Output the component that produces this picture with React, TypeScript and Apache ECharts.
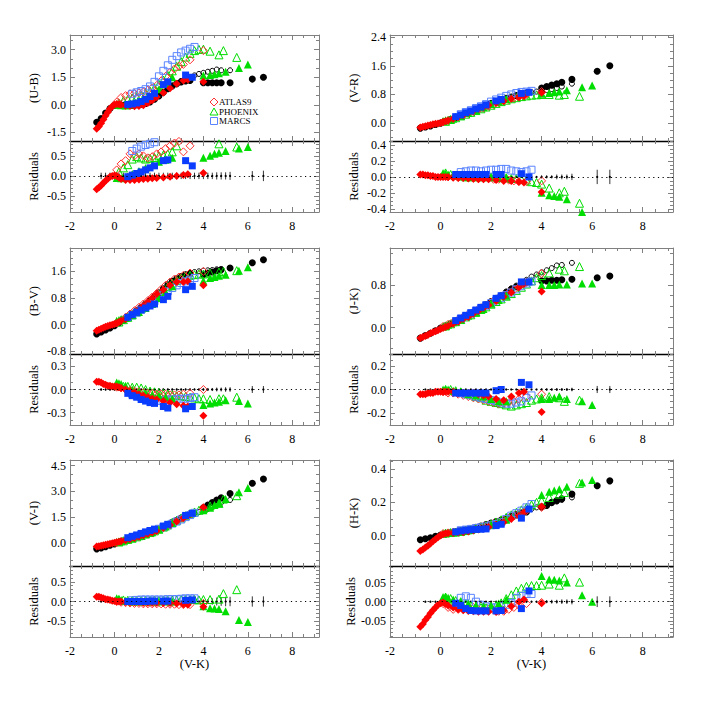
import React, { useEffect, useRef } from "react";
import * as echarts from "echarts";

// ---------- shared V-K abscissae ----------
const vkBlackDwarf = [-0.8,-0.6,-0.4,-0.2,0.0,0.2,0.4,0.6,0.8,1.0,1.2,1.4,1.6,1.8,2.0,2.2,2.4,2.6,2.8,3.0,3.2,3.4,4.0,4.2,4.4,4.6,4.8,5.2,6.2,6.7];
const vkBlackGiant = [2.6,2.8,3.0,3.2,3.4,3.6,3.8,4.0,4.2,4.4,4.6,4.8,5.2];
const vkAtlasDwarf = [-0.8,-0.7,-0.6,-0.5,-0.4,-0.3,-0.2,-0.1,0.0,0.1,0.2,0.3,0.5,0.7,0.9,1.1,1.3,1.5,1.7,1.9,2.2,2.5,2.8,3.1,3.3,4.0];
const vkAtlasGiant = [0.1,0.3,0.5,0.7,0.9,1.1,1.3,1.5,1.7,1.9,2.1,2.3,2.5,2.7,2.9,3.1,3.4,4.0];
const vkPhoenixDwarf = [0.1,0.2,0.3,0.5,0.8,1.1,1.4,1.7,2.0,2.3,2.6,4.0,4.3,4.5,4.7,5.0,5.6,6.0];
const vkPhoenixGiant = [0.2,0.4,0.6,0.8,1.0,1.2,1.4,1.6,1.8,2.0,2.2,2.4,2.6,2.8,3.0,3.2,3.4,3.6,3.8,4.0,4.3,4.7,4.9,5.5];
const vkMarcsDwarf = [0.6,0.8,1.0,1.2,1.4,1.6,1.8,2.2,2.4,3.2,3.5];
const vkMarcsGiant = [0.8,1.0,1.2,1.4,1.6,1.8,2.0,2.2,2.4,2.6,2.8,3.0,3.2,3.4,3.6];
const vkErr = [-0.6,-0.4,-0.2,0.0,0.2,0.4,0.6,0.8,1.0,1.2,1.4,1.6,1.8,2.0,2.2,2.4,2.6,2.8,3.0,3.2,3.4,3.6,3.8,4.0,4.2,4.4,4.6,4.8,5.0,5.2,6.2,6.7];

// ---------- tick labels ----------
const vkTicks = [-2, 0, 2, 4, 6, 8];
const ubMainTicks = [-1.5, 0, 1.5, 3.0];
const ubResTicks = [-0.5, 0, 0.5];
const vrMainTicks = [0, 0.8, 1.6, 2.4];
const vrResTicks = [-0.4, -0.2, 0, 0.2, 0.4];
const bvMainTicks = [-0.8, 0, 0.8, 1.6];
const bvResTicks = [-0.3, 0, 0.3];
const jkMainTicks = [0, 0.8];
const jkResTicks = [-0.2, 0, 0.2];
const viMainTicks = [0, 1.5, 3.0, 4.5];
const viResTicks = [-0.5, 0, 0.5];
const hkMainTicks = [0, 0.2, 0.4];
const hkResTicks = [-0.05, 0, 0.05];

// ---------- (U-B) ----------
const ubBlackDwarf = [-0.95,-0.75,-0.45,-0.2,-0.03,0.0,-0.03,-0.04,-0.03,0.0,0.03,0.07,0.15,0.3,0.48,0.68,0.87,1.02,1.15,1.25,1.3,1.32,1.2,1.2,1.2,1.2,1.2,1.2,1.4,1.5];
const ubBlackGiant = [1.05,1.18,1.3,1.4,1.5,1.6,1.68,1.74,1.8,1.85,1.92,1.88,1.88];
const ubAtlasDwarf = [-1.3,-1.18,-1.0,-0.8,-0.6,-0.4,-0.22,-0.08,0.0,0.04,0.03,0.0,-0.05,-0.07,-0.08,-0.06,-0.02,0.1,0.25,0.42,0.65,0.9,1.15,1.32,1.38,1.25];
const ubAtlasGiant = [0.15,0.4,0.5,0.6,0.62,0.65,0.7,0.8,0.92,1.05,1.3,1.55,1.77,1.95,2.1,2.2,2.45,2.95];
const ubPhoenixDwarf = [0.0,0.0,-0.02,-0.04,0.0,0.1,0.3,0.55,0.85,1.15,1.5,1.6,1.62,1.67,1.72,1.8,2.0,2.2];
const ubPhoenixGiant = [0.1,0.22,0.3,0.38,0.45,0.52,0.62,0.75,0.92,1.12,1.35,1.6,1.85,2.1,2.35,2.6,2.8,2.95,3.02,3.03,2.92,2.72,2.95,2.58];
const ubMarcsDwarf = [0.02,0.05,0.1,0.18,0.3,0.45,0.62,1.1,1.25,1.62,1.5];
const ubMarcsGiant = [0.6,0.68,0.75,0.85,1.0,1.25,1.55,1.85,2.15,2.45,2.65,2.85,2.95,3.05,3.15];
const ubResAtlasDwarf = [-0.33,-0.29,-0.24,-0.18,-0.12,-0.07,-0.02,0.0,0.01,0.0,-0.04,-0.08,-0.1,-0.1,-0.1,-0.09,-0.08,-0.07,-0.06,-0.05,-0.04,-0.02,0.0,0.02,0.04,0.07];
const ubResAtlasGiant = [0.15,0.3,0.38,0.55,0.5,0.55,0.5,0.45,0.48,0.55,0.6,0.68,0.75,0.82,0.86,0.6,0.75,1.2];
const ubResPhoenixDwarf = [-0.05,-0.05,-0.06,-0.05,0.05,0.12,0.2,0.28,0.35,0.4,0.45,0.45,0.5,0.55,0.58,0.62,0.68,0.72];
const ubResPhoenixGiant = [0.1,0.2,0.28,0.42,0.48,0.45,0.42,0.44,0.46,0.5,0.52,0.55,0.6,0.75,0.9,1.0,1.1,1.2,1.3,1.4,1.1,0.8,1.0,0.72];
const ubResMarcsDwarf = [-0.02,0.02,0.06,0.1,0.15,0.2,0.25,0.38,0.4,0.38,0.25];
const ubResMarcsGiant = [0.62,0.68,0.73,0.77,0.8,0.84,0.88,0.95,1.0,1.05,1.1,1.15,1.2,1.25,1.3];
const ubErr = [0.08,0.08,0.08,0.08,0.08,0.08,0.08,0.08,0.08,0.08,0.08,0.08,0.08,0.08,0.08,0.08,0.08,0.08,0.08,0.08,0.08,0.08,0.08,0.08,0.08,0.08,0.09,0.09,0.09,0.1,0.12,0.13];

// ---------- (V-R) ----------
const vrBlackDwarf = [-0.14,-0.11,-0.08,-0.04,0.0,0.05,0.1,0.16,0.21,0.27,0.32,0.38,0.43,0.49,0.55,0.6,0.64,0.69,0.73,0.77,0.8,0.84,0.98,1.02,1.06,1.1,1.14,1.22,1.45,1.6];
const vrBlackGiant = [0.69,0.73,0.77,0.8,0.84,0.86,0.88,0.9,0.92,0.95,0.98,1.02,1.1];
const vrAtlasDwarf = [-0.12,-0.1,-0.09,-0.07,-0.05,-0.03,-0.02,-0.01,0.0,0.03,0.05,0.07,0.12,0.17,0.22,0.29,0.34,0.4,0.45,0.5,0.56,0.62,0.68,0.72,0.75,0.85];
const vrAtlasGiant = [0.03,0.07,0.12,0.17,0.22,0.27,0.32,0.37,0.42,0.47,0.52,0.57,0.62,0.66,0.7,0.74,0.8,0.88];
const vrPhoenixDwarf = [0.06,0.08,0.09,0.12,0.2,0.28,0.36,0.44,0.53,0.6,0.67,0.82,0.84,0.86,0.88,0.92,1.0,1.05];
const vrPhoenixGiant = [0.05,0.1,0.15,0.2,0.25,0.3,0.35,0.4,0.45,0.5,0.55,0.6,0.64,0.68,0.71,0.74,0.76,0.78,0.79,0.8,0.8,0.78,0.8,0.75];
const vrMarcsDwarf = [0.18,0.23,0.29,0.34,0.4,0.45,0.51,0.62,0.66,0.83,0.86];
const vrMarcsGiant = [0.25,0.31,0.36,0.42,0.47,0.53,0.6,0.66,0.71,0.76,0.8,0.84,0.87,0.88,0.9];
const vrResAtlasDwarf = [0.03,0.03,0.02,0.02,0.01,0.01,0.0,0.0,0.0,0.0,0.0,0.0,-0.01,-0.01,-0.01,-0.02,-0.02,-0.03,-0.03,-0.03,-0.04,-0.05,-0.05,-0.06,-0.07,-0.19];
const vrResAtlasGiant = [0.01,0.0,0.0,-0.01,-0.01,-0.01,-0.02,-0.02,-0.02,-0.02,-0.03,-0.03,-0.03,-0.04,-0.05,-0.06,-0.06,-0.05];
const vrResPhoenixDwarf = [0.05,0.04,0.03,0.02,0.01,0.0,0.0,0.0,0.0,-0.01,-0.01,-0.2,-0.23,-0.24,-0.25,-0.28,-0.44,-0.5];
const vrResPhoenixGiant = [0.05,0.03,0.02,0.01,0.0,0.0,0.0,0.0,0.0,0.0,0.0,-0.01,-0.01,-0.02,-0.02,-0.03,-0.04,-0.06,-0.07,-0.09,-0.14,-0.2,-0.18,-0.33];
const vrResMarcsDwarf = [0.03,0.03,0.03,0.03,0.03,0.03,0.03,0.03,0.03,0.04,0.0];
const vrResMarcsGiant = [0.06,0.07,0.08,0.08,0.07,0.08,0.09,0.09,0.1,0.1,0.08,0.07,0.06,0.07,0.09];
const vrErr = [0.01,0.01,0.01,0.01,0.01,0.01,0.01,0.01,0.01,0.01,0.01,0.01,0.01,0.01,0.01,0.01,0.01,0.01,0.01,0.01,0.01,0.01,0.01,0.02,0.02,0.02,0.03,0.03,0.03,0.04,0.09,0.09];

// ---------- (B-V) ----------
const bvBlackDwarf = [-0.28,-0.22,-0.16,-0.1,-0.03,0.05,0.13,0.22,0.32,0.42,0.52,0.62,0.73,0.84,0.96,1.08,1.2,1.3,1.38,1.44,1.5,1.53,1.5,1.55,1.58,1.62,1.65,1.7,1.86,1.95];
const bvBlackGiant = [1.3,1.38,1.45,1.5,1.55,1.58,1.6,1.62,1.63,1.64,1.66,1.67,1.7];
const bvAtlasDwarf = [-0.18,-0.15,-0.12,-0.09,-0.06,-0.04,-0.02,0.0,0.02,0.05,0.08,0.12,0.17,0.25,0.35,0.45,0.57,0.68,0.8,0.92,1.05,1.18,1.28,1.28,1.3,1.18];
const bvAtlasGiant = [0.05,0.13,0.22,0.32,0.42,0.52,0.62,0.72,0.83,0.94,1.06,1.18,1.28,1.37,1.43,1.48,1.55,1.6];
const bvPhoenixDwarf = [0.12,0.14,0.17,0.2,0.28,0.38,0.5,0.62,0.8,0.98,1.15,1.32,1.4,1.43,1.47,1.5,1.62,1.72];
const bvPhoenixGiant = [0.08,0.15,0.22,0.3,0.38,0.48,0.58,0.68,0.8,0.92,1.04,1.15,1.25,1.33,1.4,1.45,1.48,1.5,1.52,1.52,1.55,1.58,1.6,1.62];
const bvMarcsDwarf = [0.22,0.3,0.37,0.44,0.5,0.56,0.62,0.75,0.85,1.05,1.15];
const bvMarcsGiant = [0.28,0.36,0.45,0.53,0.62,0.7,0.8,0.9,1.0,1.1,1.18,1.25,1.3,1.35,1.4];
const bvResAtlasDwarf = [0.1,0.1,0.09,0.07,0.06,0.05,0.05,0.04,0.04,0.04,0.03,0.02,0.0,-0.02,-0.04,-0.06,-0.08,-0.1,-0.12,-0.13,-0.15,-0.17,-0.19,-0.21,-0.22,-0.34];
const bvResAtlasGiant = [0.03,0.02,0.0,-0.01,-0.02,-0.03,-0.04,-0.05,-0.05,-0.06,-0.06,-0.06,-0.07,-0.07,-0.07,-0.06,-0.05,0.0];
const bvResPhoenixDwarf = [0.09,0.08,0.07,0.05,0.0,-0.03,-0.05,-0.07,-0.08,-0.1,-0.12,-0.2,-0.18,-0.17,-0.16,-0.14,-0.15,-0.18];
const bvResPhoenixGiant = [0.05,0.04,0.04,0.03,0.03,0.02,0.0,-0.02,-0.03,-0.04,-0.05,-0.06,-0.07,-0.08,-0.08,-0.09,-0.1,-0.11,-0.12,-0.12,-0.13,-0.12,-0.12,-0.1];
const bvResMarcsDwarf = [-0.05,-0.08,-0.1,-0.13,-0.15,-0.17,-0.18,-0.22,-0.24,-0.25,-0.22];
const bvResMarcsGiant = [-0.06,-0.08,-0.1,-0.12,-0.14,-0.15,-0.15,-0.14,-0.13,-0.13,-0.12,-0.12,-0.12,-0.11,-0.1];
const bvErr = [0.015,0.015,0.015,0.015,0.015,0.015,0.015,0.015,0.015,0.015,0.015,0.015,0.015,0.015,0.015,0.015,0.015,0.015,0.015,0.015,0.015,0.015,0.015,0.02,0.02,0.02,0.025,0.025,0.03,0.03,0.045,0.045];

// ---------- (J-K) ----------
const jkBlackDwarf = [-0.2,-0.15,-0.11,-0.06,-0.01,0.03,0.07,0.12,0.17,0.22,0.27,0.32,0.38,0.43,0.49,0.55,0.6,0.66,0.72,0.77,0.82,0.86,0.88,0.88,0.89,0.89,0.9,0.91,0.94,0.97];
const jkBlackGiant = [0.68,0.74,0.79,0.84,0.9,0.96,1.0,1.04,1.08,1.12,1.17,1.18,1.22];
const jkAtlasDwarf = [-0.2,-0.18,-0.16,-0.14,-0.11,-0.09,-0.07,-0.05,-0.03,-0.01,0.01,0.03,0.07,0.11,0.16,0.2,0.26,0.31,0.37,0.42,0.5,0.58,0.66,0.76,0.82,0.68];
const jkAtlasGiant = [0.02,0.06,0.1,0.15,0.2,0.25,0.3,0.35,0.4,0.45,0.51,0.56,0.61,0.66,0.71,0.76,0.85,1.02];
const jkPhoenixDwarf = [0.02,0.03,0.05,0.1,0.15,0.22,0.28,0.35,0.45,0.52,0.6,0.8,0.8,0.8,0.81,0.81,0.83,0.83];
const jkPhoenixGiant = [0.03,0.07,0.11,0.15,0.2,0.24,0.29,0.34,0.39,0.44,0.49,0.54,0.59,0.64,0.7,0.76,0.82,0.88,0.94,0.98,1.03,1.1,1.07,1.15];
const jkMarcsDwarf = [0.13,0.18,0.23,0.28,0.33,0.38,0.43,0.55,0.6,0.86,0.86];
const jkMarcsGiant = [0.16,0.21,0.26,0.31,0.36,0.41,0.46,0.51,0.56,0.61,0.66,0.72,0.78,0.83,0.87];
const jkResAtlasDwarf = [-0.04,-0.04,-0.04,-0.03,-0.03,-0.03,-0.02,-0.02,-0.02,-0.02,-0.02,-0.02,-0.02,-0.03,-0.03,-0.03,-0.03,-0.04,-0.05,-0.06,-0.08,-0.09,-0.06,-0.03,-0.02,-0.19];
const jkResAtlasGiant = [-0.02,-0.03,-0.03,-0.04,-0.05,-0.06,-0.07,-0.08,-0.09,-0.1,-0.11,-0.12,-0.12,-0.11,-0.1,-0.08,-0.06,-0.04];
const jkResPhoenixDwarf = [0.0,0.0,0.0,-0.01,-0.02,-0.04,-0.05,-0.06,-0.08,-0.1,-0.1,-0.08,-0.08,-0.07,-0.06,-0.08,-0.1,-0.13];
const jkResPhoenixGiant = [0.0,0.0,-0.01,-0.02,-0.03,-0.04,-0.06,-0.07,-0.09,-0.1,-0.11,-0.12,-0.13,-0.14,-0.13,-0.12,-0.11,-0.09,-0.08,-0.07,-0.06,-0.07,-0.1,-0.09];
const jkResMarcsDwarf = [-0.03,-0.03,-0.03,-0.03,-0.03,-0.03,-0.03,-0.01,0.0,0.06,0.04];
const jkResMarcsGiant = [-0.03,-0.04,-0.05,-0.06,-0.07,-0.08,-0.09,-0.1,-0.11,-0.12,-0.12,-0.11,-0.1,-0.07,-0.05];
const jkErr = [0.006,0.006,0.006,0.006,0.006,0.006,0.006,0.006,0.006,0.006,0.006,0.006,0.006,0.006,0.006,0.006,0.006,0.006,0.006,0.006,0.006,0.006,0.006,0.01,0.01,0.01,0.012,0.012,0.012,0.015,0.03,0.03];

// ---------- (V-I) ----------
const viBlackDwarf = [-0.35,-0.3,-0.22,-0.14,-0.06,0.02,0.1,0.18,0.26,0.35,0.43,0.52,0.6,0.69,0.8,0.92,1.05,1.2,1.32,1.44,1.58,1.7,2.05,2.2,2.35,2.5,2.62,2.88,3.47,3.72];
const viBlackGiant = [1.18,1.3,1.42,1.54,1.64,1.72,1.8,1.88,1.98,2.1,2.22,2.34,2.5];
const viAtlasDwarf = [-0.22,-0.2,-0.17,-0.14,-0.11,-0.08,-0.05,-0.02,0.0,0.03,0.06,0.09,0.15,0.21,0.28,0.36,0.44,0.52,0.6,0.69,0.86,1.04,1.24,1.45,1.6,2.08];
const viAtlasGiant = [0.0,0.08,0.16,0.25,0.33,0.41,0.49,0.58,0.67,0.76,0.87,0.98,1.1,1.22,1.34,1.45,1.62,1.95];
const viPhoenixDwarf = [0.05,0.08,0.1,0.16,0.26,0.38,0.5,0.62,0.78,0.95,1.15,1.9,2.05,2.2,2.32,2.55,2.95,3.2];
const viPhoenixGiant = [0.05,0.12,0.2,0.28,0.35,0.43,0.52,0.6,0.7,0.8,0.92,1.05,1.2,1.32,1.45,1.58,1.7,1.8,1.9,2.0,2.15,2.3,2.55,2.75];
const viMarcsDwarf = [0.3,0.38,0.46,0.55,0.64,0.72,0.8,0.98,1.08,1.6,1.72];
const viMarcsGiant = [0.3,0.39,0.48,0.57,0.65,0.73,0.82,0.92,1.02,1.12,1.24,1.36,1.5,1.62,1.75];
const viResAtlasDwarf = [0.12,0.12,0.1,0.08,0.06,0.05,0.04,0.02,0.01,0.0,0.0,0.0,-0.01,-0.02,-0.02,-0.02,-0.03,-0.03,-0.03,-0.03,-0.04,-0.04,-0.05,-0.07,-0.08,-0.13];
const viResAtlasGiant = [0.0,-0.02,-0.03,-0.04,-0.05,-0.05,-0.06,-0.06,-0.06,-0.06,-0.06,-0.07,-0.07,-0.07,-0.08,-0.08,-0.08,-0.05];
const viResPhoenixDwarf = [0.08,0.06,0.04,0.02,0.0,0.0,0.0,0.0,0.0,0.0,0.0,-0.12,-0.17,-0.18,-0.19,-0.25,-0.47,-0.52];
const viResPhoenixGiant = [0.05,0.04,0.03,0.03,0.03,0.03,0.03,0.03,0.03,0.03,0.03,0.03,0.04,0.04,0.05,0.05,0.05,0.05,0.04,0.05,0.05,0.06,0.2,0.3];
const viResMarcsDwarf = [0.0,0.0,0.0,0.0,0.0,0.01,0.01,0.01,0.01,0.03,0.04];
const viResMarcsGiant = [0.03,0.04,0.05,0.05,0.05,0.05,0.05,0.05,0.06,0.06,0.06,0.07,0.08,0.08,0.08];
const viErr = [0.02,0.02,0.02,0.02,0.02,0.02,0.02,0.02,0.02,0.02,0.02,0.02,0.02,0.02,0.02,0.02,0.02,0.02,0.02,0.02,0.02,0.02,0.02,0.05,0.06,0.08,0.1,0.11,0.12,0.12,0.13,0.13];

// ---------- (H-K) ----------
const hkBlackDwarf = [-0.025,-0.02,-0.013,-0.005,0.003,0.01,0.016,0.022,0.028,0.035,0.042,0.05,0.058,0.066,0.075,0.084,0.094,0.104,0.114,0.124,0.133,0.142,0.172,0.182,0.2,0.212,0.222,0.25,0.3,0.33];
const hkBlackGiant = [0.11,0.12,0.13,0.14,0.15,0.16,0.17,0.175,0.185,0.195,0.205,0.215,0.23];
const hkAtlasDwarf = [-0.094,-0.085,-0.073,-0.062,-0.048,-0.035,-0.022,-0.01,0.0,0.008,0.012,0.014,0.016,0.018,0.02,0.024,0.03,0.036,0.044,0.052,0.065,0.08,0.1,0.12,0.14,0.175];
const hkAtlasGiant = [0.012,0.016,0.02,0.024,0.028,0.033,0.04,0.047,0.055,0.063,0.072,0.082,0.092,0.104,0.118,0.132,0.15,0.17];
const hkPhoenixDwarf = [0.012,0.015,0.016,0.018,0.024,0.032,0.042,0.052,0.065,0.08,0.095,0.245,0.265,0.272,0.28,0.295,0.32,0.335];
const hkPhoenixGiant = [0.015,0.018,0.021,0.025,0.03,0.036,0.043,0.051,0.06,0.07,0.082,0.095,0.11,0.125,0.14,0.155,0.17,0.185,0.2,0.21,0.23,0.25,0.26,0.315];
const hkMarcsDwarf = [0.022,0.028,0.032,0.035,0.037,0.038,0.04,0.06,0.068,0.105,0.16];
const hkMarcsGiant = [0.032,0.036,0.04,0.045,0.05,0.055,0.062,0.07,0.08,0.1,0.12,0.135,0.15,0.17,0.19];
const hkResAtlasDwarf = [-0.065,-0.058,-0.048,-0.04,-0.03,-0.022,-0.015,-0.008,-0.004,-0.002,-0.006,-0.01,-0.015,-0.02,-0.022,-0.024,-0.025,-0.026,-0.026,-0.026,-0.027,-0.022,-0.012,0.0,0.006,-0.004];
const hkResAtlasGiant = [-0.005,-0.015,-0.02,-0.02,-0.02,-0.015,-0.015,-0.02,-0.02,-0.02,-0.022,-0.025,-0.025,-0.02,-0.015,-0.01,-0.005,-0.002];
const hkResPhoenixDwarf = [0.012,0.012,0.01,0.006,0.0,-0.005,-0.01,-0.012,-0.01,-0.005,0.005,0.067,0.058,0.057,0.055,0.05,0.017,0.0];
const hkResPhoenixGiant = [0.012,0.008,0.003,0.0,-0.005,-0.01,-0.013,-0.015,-0.016,-0.015,-0.01,-0.003,0.008,0.018,0.028,0.035,0.04,0.042,0.042,0.043,0.046,0.043,0.062,0.051];
const hkResMarcsDwarf = [-0.004,-0.01,-0.018,-0.023,-0.024,-0.024,-0.024,-0.024,-0.023,-0.018,0.028];
const hkResMarcsGiant = [0.01,0.014,0.01,0.0,-0.008,-0.012,-0.015,-0.015,-0.012,-0.008,-0.003,0.01,0.015,0.02,0.02];
const hkErr = [0.002,0.002,0.002,0.002,0.002,0.002,0.002,0.002,0.002,0.002,0.002,0.002,0.002,0.002,0.002,0.002,0.002,0.002,0.002,0.002,0.002,0.002,0.002,0.004,0.004,0.005,0.005,0.006,0.006,0.007,0.014,0.014];

// ---------- style ----------
const FONT = "Liberation Serif";
const FRAME = "#808080";
const RED = "#ff0000";
const RED_OPEN = "#ff3030";
const GREEN = "#00dd00";
const BLUE = "#0a3cff";
const BLUE_OPEN = "#5a84ff";

const panels = [
  { label: "(U-B)", row: 0, col: 0, main: [-1.97, 3.8, ubMainTicks, 0.5, 1], res: [-0.9, 0.87, ubResTicks, 0.1, 1],
    m: [ubBlackDwarf, ubBlackGiant, ubAtlasDwarf, ubAtlasGiant, ubPhoenixDwarf, ubPhoenixGiant, ubMarcsDwarf, ubMarcsGiant],
    r: [ubResAtlasDwarf, ubResAtlasGiant, ubResPhoenixDwarf, ubResPhoenixGiant, ubResMarcsDwarf, ubResMarcsGiant], err: ubErr },
  { label: "(V-R)", row: 0, col: 1, main: [-0.5, 2.46, vrMainTicks, 0.2, 1], res: [-0.44, 0.45, vrResTicks, 0.05, 1],
    m: [vrBlackDwarf, vrBlackGiant, vrAtlasDwarf, vrAtlasGiant, vrPhoenixDwarf, vrPhoenixGiant, vrMarcsDwarf, vrMarcsGiant],
    r: [vrResAtlasDwarf, vrResAtlasGiant, vrResPhoenixDwarf, vrResPhoenixGiant, vrResMarcsDwarf, vrResMarcsGiant], err: vrErr },
  { label: "(B-V)", row: 1, col: 0, main: [-0.88, 2.3, bvMainTicks, 0.2, 1], res: [-0.46, 0.46, bvResTicks, 0.1, 1],
    m: [bvBlackDwarf, bvBlackGiant, bvAtlasDwarf, bvAtlasGiant, bvPhoenixDwarf, bvPhoenixGiant, bvMarcsDwarf, bvMarcsGiant],
    r: [bvResAtlasDwarf, bvResAtlasGiant, bvResPhoenixDwarf, bvResPhoenixGiant, bvResMarcsDwarf, bvResMarcsGiant], err: bvErr },
  { label: "(J-K)", row: 1, col: 1, main: [-0.5, 1.5, jkMainTicks, 0.2, 1], res: [-0.3, 0.3, jkResTicks, 0.05, 1],
    m: [jkBlackDwarf, jkBlackGiant, jkAtlasDwarf, jkAtlasGiant, jkPhoenixDwarf, jkPhoenixGiant, jkMarcsDwarf, jkMarcsGiant],
    r: [jkResAtlasDwarf, jkResAtlasGiant, jkResPhoenixDwarf, jkResPhoenixGiant, jkResMarcsDwarf, jkResMarcsGiant], err: jkErr },
  { label: "(V-I)", row: 2, col: 0, main: [-1.35, 4.83, viMainTicks, 0.5, 1], res: [-0.9, 0.9, viResTicks, 0.1, 1],
    m: [viBlackDwarf, viBlackGiant, viAtlasDwarf, viAtlasGiant, viPhoenixDwarf, viPhoenixGiant, viMarcsDwarf, viMarcsGiant],
    r: [viResAtlasDwarf, viResAtlasGiant, viResPhoenixDwarf, viResPhoenixGiant, viResMarcsDwarf, viResMarcsGiant], err: viErr },
  { label: "(H-K)", row: 2, col: 1, main: [-0.184, 0.456, hkMainTicks, 0.05, 1], res: [-0.092, 0.093, hkResTicks, 0.01, 2],
    m: [hkBlackDwarf, hkBlackGiant, hkAtlasDwarf, hkAtlasGiant, hkPhoenixDwarf, hkPhoenixGiant, hkMarcsDwarf, hkMarcsGiant],
    r: [hkResAtlasDwarf, hkResAtlasGiant, hkResPhoenixDwarf, hkResPhoenixGiant, hkResMarcsDwarf, hkResMarcsGiant], err: hkErr },
];

const colLeft = [70, 390];
const colWidth = [249, 283];
const rowTop = [35, 248, 460];
const mainH = 106;
const resH = 71;

function minorValues(min: number, max: number, step: number, major: number[]) {
  const out: number[] = [];
  for (let k = Math.ceil(min / step - 1e-9); k * step <= max + 1e-9; k++) {
    const v = Math.round(k * step * 1e6) / 1e6;
    if (!major.some((m) => Math.abs(m - v) < 1e-9)) out.push(v);
  }
  return out;
}

function addAxes(list: any[], dim: "x" | "y", gi: number, min: number, max: number, major: number[], minorStep: number,
  labels: boolean, dec: number, name: string, nameGap: number, strongTop: boolean) {
  const minor = minorValues(min, max, minorStep, major);
  const posA = dim === "x" ? "bottom" : "left";
  const posB = dim === "x" ? "top" : "right";
  const base: any = { type: "value", gridIndex: gi, min, max, splitLine: { show: false }, silent: true };
  const lineCol = { color: FRAME, width: 1 };
  const idx = list.length;
  list.push({
    ...base, position: posA,
    axisLine: { show: true, onZero: false, lineStyle: lineCol },
    axisTick: { show: true, inside: true, length: 5, customValues: major, lineStyle: lineCol },
    axisLabel: { show: labels, customValues: major, formatter: (v: number) => v.toFixed(dec), margin: dim === "x" ? 8 : 4,
      fontFamily: FONT, fontSize: 12, color: "#000" },
    name, nameLocation: "middle", nameGap,
    nameTextStyle: { fontFamily: FONT, fontSize: 12.5, color: "#000" },
  });
  list.push({ ...base, position: posA, axisLine: { show: false, onZero: false },
    axisTick: { show: true, inside: true, length: 3, customValues: minor, lineStyle: lineCol }, axisLabel: { show: false } });
  list.push({ ...base, position: posB,
    axisLine: { show: true, onZero: false, lineStyle: strongTop ? { color: "#000", width: 1.3 } : lineCol },
    axisTick: { show: true, inside: true, length: 5, customValues: major, lineStyle: lineCol }, axisLabel: { show: false } });
  list.push({ ...base, position: posB, axisLine: { show: false, onZero: false },
    axisTick: { show: true, inside: true, length: 3, customValues: minor, lineStyle: lineCol }, axisLabel: { show: false } });
  return idx;
}

function sc(xi: number, yi: number, xs: number[], ys: number[], symbol: string, size: number, color: string, filled: boolean, name: string) {
  return {
    type: "scatter", name, xAxisIndex: xi, yAxisIndex: yi, clip: true, silent: true,
    data: xs.map((x, i) => [x, ys[i]]), symbol, symbolSize: size,
    itemStyle: filled ? { color, opacity: 1 } : { color: "rgba(0,0,0,0)", borderColor: color, borderWidth: 1, opacity: 1 },
    emphasis: { disabled: true },
  };
}

function buildOption() {
  const grids: any[] = [];
  const xAxes: any[] = [];
  const yAxes: any[] = [];
  const series: any[] = [];
  panels.forEach((p) => {
    const left = colLeft[p.col];
    const width = colWidth[p.col];
    const top = rowTop[p.row];
    const gMain = grids.length;
    grids.push({ left, top, width, height: mainH, show: false });
    const gRes = grids.length;
    grids.push({ left, top: top + mainH, width, height: resH, show: false });
    const [mMin, mMax, mTicks, mMinor, mDec] = p.main as any;
    const [rMin, rMax, rTicks, rMinor, rDec] = p.res as any;
    const xm = addAxes(xAxes, "x", gMain, -2, 9.2, vkTicks, 0.5, false, 0, "", 0, false);
    const ym = addAxes(yAxes, "y", gMain, mMin, mMax, mTicks, mMinor, true, mDec, p.label, 30, false);
    const xr = addAxes(xAxes, "x", gRes, -2, 9.2, vkTicks, 0.5, true, 0, p.row === 2 ? "(V-K)" : "", 19, true);
    const yr = addAxes(yAxes, "y", gRes, rMin, rMax, rTicks, rMinor, true, rDec, "Residuals", 30, false);

    const [bd, bg, ad, ag, pd, pg, md, mg] = p.m;
    series.push(sc(xm, ym, vkBlackDwarf, bd, "circle", 7, "#000", true, "Observed"));
    series.push(sc(xm, ym, vkBlackGiant, bg, "circle", 5, "#000", false, "Observed giants"));
    series.push(sc(xm, ym, vkPhoenixGiant, pg, "triangle", 8, GREEN, false, "PHOENIX"));
    series.push(sc(xm, ym, vkAtlasGiant, ag, "diamond", 8, RED_OPEN, false, "ATLAS9"));
    series.push(sc(xm, ym, vkMarcsGiant, mg, "rect", 7, BLUE_OPEN, false, "MARCS"));
    series.push(sc(xm, ym, vkPhoenixDwarf, pd, "triangle", 8, GREEN, true, "PHOENIX dwarfs"));
    series.push(sc(xm, ym, vkAtlasDwarf, ad, "diamond", 8, RED, true, "ATLAS9 dwarfs"));
    series.push(sc(xm, ym, vkMarcsDwarf, md, "rect", 7, BLUE, true, "MARCS dwarfs"));

    series.push({
      type: "custom", name: "Uncertainty", xAxisIndex: xr, yAxisIndex: yr, silent: true, clip: true,
      data: vkErr.map((x, i) => [x, p.err[i]]),
      encode: { x: 0, y: 1 },
      renderItem: (_params: any, api: any) => {
        const x = api.value(0);
        const e = api.value(1);
        const a = api.coord([x, e]);
        const b = api.coord([x, -e]);
        const c = api.coord([x, 0]);
        return {
          type: "group",
          children: [
            { type: "line", shape: { x1: a[0], y1: a[1], x2: b[0], y2: b[1] }, style: { stroke: "#000", lineWidth: 0.8 } },
            { type: "circle", shape: { cx: c[0], cy: c[1], r: 1.1 }, style: { fill: "#000" } },
          ],
        };
      },
      markLine: {
        silent: true, symbol: ["none", "none"], label: { show: false },
        lineStyle: { color: "#000", type: [1.2, 3.5], width: 1 },
        data: [{ yAxis: 0 }],
      },
    });
    const [rad, rag, rpd, rpg, rmd, rmg] = p.r;
    series.push(sc(xr, yr, vkPhoenixGiant, rpg, "triangle", 8, GREEN, false, "PHOENIX"));
    series.push(sc(xr, yr, vkAtlasGiant, rag, "diamond", 8, RED_OPEN, false, "ATLAS9"));
    series.push(sc(xr, yr, vkMarcsGiant, rmg, "rect", 7, BLUE_OPEN, false, "MARCS"));
    series.push(sc(xr, yr, vkPhoenixDwarf, rpd, "triangle", 8, GREEN, true, "PHOENIX dwarfs"));
    series.push(sc(xr, yr, vkAtlasDwarf, rad, "diamond", 8, RED, true, "ATLAS9 dwarfs"));
    series.push(sc(xr, yr, vkMarcsDwarf, rmd, "rect", 7, BLUE, true, "MARCS dwarfs"));
  });

  const legendFont = { fontFamily: FONT, fontSize: 9, fill: "#000" };
  const graphic = [
    { type: "polygon", shape: { points: [[214, 98], [218, 102], [214, 106], [210, 102]] },
      style: { fill: "rgba(0,0,0,0)", stroke: RED_OPEN, lineWidth: 1 } },
    { type: "text", x: 219, y: 102, style: { ...legendFont, text: "ATLAS9", verticalAlign: "middle", align: "left" } },
    { type: "polygon", shape: { points: [[214, 108], [218, 115], [210, 115]] },
      style: { fill: "rgba(0,0,0,0)", stroke: GREEN, lineWidth: 1 } },
    { type: "text", x: 219, y: 111.5, style: { ...legendFont, text: "PHOENIX", verticalAlign: "middle", align: "left" } },
    { type: "rect", shape: { x: 210.5, y: 117.5, width: 7, height: 7 },
      style: { fill: "rgba(0,0,0,0)", stroke: BLUE_OPEN, lineWidth: 1 } },
    { type: "text", x: 219, y: 121, style: { ...legendFont, text: "MARCS", verticalAlign: "middle", align: "left" } },
  ];

  return {
    animation: false,
    backgroundColor: "#ffffff",
    textStyle: { fontFamily: FONT },
    grid: grids,
    xAxis: xAxes,
    yAxis: yAxes,
    series,
    graphic,
  };
}

export default function App() {
  const ref = useRef<HTMLDivElement>(null);
  useEffect(() => {
    if (!ref.current) return;
    const chart = echarts.init(ref.current, undefined, { renderer: "svg" });
    chart.setOption(buildOption() as any);
    return () => chart.dispose();
  }, []);
  return <div ref={ref} style={{ position: "fixed", left: 0, top: 0, width: 709, height: 709, background: "#fff" }} />;
}
